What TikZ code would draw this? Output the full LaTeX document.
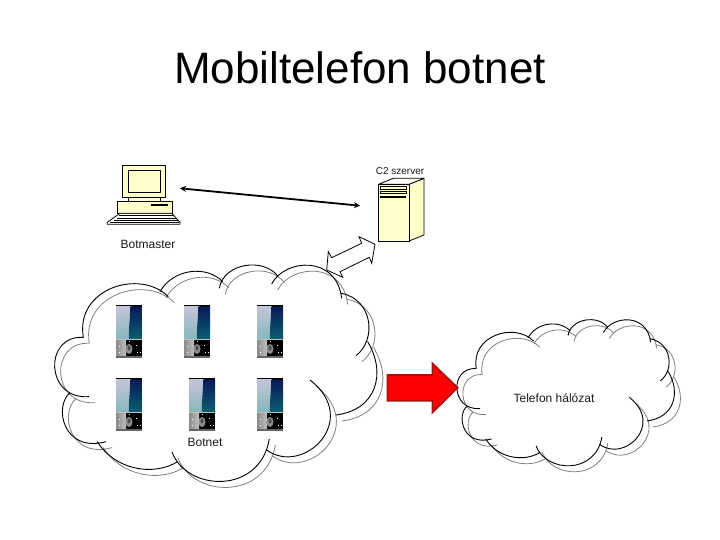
\documentclass[tikz,border=0pt]{standalone}
\usepackage{fontspec}
\setmainfont{Liberation Sans}
\usetikzlibrary{arrows.meta}
\definecolor{paleyellow}{HTML}{FFFFCC}
\definecolor{arrowred}{HTML}{FF0000}
\definecolor{arrowdark}{HTML}{A81010}
\definecolor{lavtop}{HTML}{C4C4D8}
\definecolor{tealpale}{HTML}{86B8BC}
\definecolor{navytop}{HTML}{0A1A58}
\definecolor{tealdark}{HTML}{0A5F70}
\tikzset{
  label12/.style={font=\fontsize{12}{14}\selectfont,inner sep=0pt,text=black!90},
  icon/.style={draw=black,line width=0.8pt,fill=paleyellow,line join=round},
  cloudline/.style={line width=0.9pt,draw=black},
  cloudshadow/.style={line width=0.8pt,draw=black!50},
  linkarrow/.style={line width=1.8pt,{Stealth[length=6pt,width=6pt]}-{Stealth[length=6pt,width=6pt]}},
}
\newcommand{\cloudarcs}[1]{%
  \draw[#1]
    (130,232) .. controls (10,225) and (15,420) .. (147,410)
    (90,398) .. controls (40,440) and (70,580) .. (198,545)
    (172,545) .. controls (225,630) and (340,650) .. (413,605)
    (396,576) .. controls (440,695) and (660,705) .. (688,537)
    (680,570) .. controls (790,650) and (965,480) .. (810,360)
    (888,465) .. controls (1010,450) and (1040,340) .. (983,245)
    (905,100) .. controls (1000,120) and (1010,240) .. (948,287)
    (695,72) .. controls (735,-5) and (890,-15) .. (905,115)
    (538,85) .. controls (550,10) and (670,-10) .. (715,50)
    (360,95) .. controls (400,25) and (500,15) .. (548,65)
    (130,232) .. controls (105,85) and (300,25) .. (385,110);}
\newcommand{\phoneicon}[2]{%
  \begin{scope}[shift={(#1,#2)}]
    \fill[black] (0,0) rectangle (26,53);
    \shade[top color=lavtop,bottom color=tealpale] (0,1.5) rectangle (15,34);
    \shade[top color=navytop,bottom color=tealdark] (14,1.5) .. controls (14.5,12) and (12.5,22) .. (13,34) -- (26,34) -- (26,1.5) -- cycle;
    \fill[black!25] (0,34) rectangle (26,34.8);
    \shade[left color=black!45,right color=black!25] (0,35) rectangle (10,51);
    \fill[black!45] (13,44) ellipse (3.5 and 5);
    \fill[black!70] (13,43) ellipse (1.5 and 2.5);
    \foreach \dx/\dy in {3/41,3/47,13/36,21/47,24/47,20/40}
      {\fill[white] (\dx,\dy) rectangle ++(1.2,1.2);}
    \fill[black!60] (0,51) rectangle (26,53);
  \end{scope}}
\begin{document}
\begin{tikzpicture}[x=1pt,y=-1pt]
\useasboundingbox (0,0) rectangle (720,540);
\fill[white] (0,0) rectangle (720,540);

\node[font=\fontsize{44}{50}\selectfont,inner sep=0pt,text=black] (title) at (360,68) {Mobiltelefon botnet};

% computer
\path[icon] (122.3,165) rectangle (165.7,197.3);
\path[icon] (128.3,170) rectangle (160,192.3);
\path[icon] (128.3,197.3) rectangle (160,201.3);
\path[icon] (117.3,201.3) rectangle (172.7,213.3);
\fill[black] (151,203.7) rectangle (168.3,205.7);
\path[icon,fill=white] (120,213.3) -- (171.7,213.3) -- (180,222.3) -- (180,224.3) -- (107.3,224.3) -- (107.3,222.3) -- cycle;
\draw[line width=0.9pt] (119,215.5) -- (173,215.5) (116.5,218) -- (175.5,218) (113.5,220.5) -- (177.5,220.5) (110,222.5) -- (179,222.5);
\coordinate (pcport) at (180,188.3);

% server
\path[icon] (409,184.3) -- (424,178.3) -- (424,235) -- (409,241) -- cycle;
\path[icon,fill=white] (378.5,184.3) -- (393.3,178.3) -- (424,178.3) -- (409,184.3) -- cycle;
\path[icon] (378.5,184.3) rectangle (409,241);
\draw[line width=0.7pt] (380,186.7) rectangle (406,189) (380,191) rectangle (406,193.3);
\fill[black] (380,195.7) rectangle (406,197.7);
\coordinate (srvport) at (360,205.7);

\draw[linkarrow] (pcport) -- (srvport);

% clouds
\begin{scope}[shift={(46,266)},x=0.3333pt,y=-0.3333pt]
  \cloudarcs{cloudshadow}
\end{scope}
\begin{scope}[shift={(40,260)},x=0.3333pt,y=-0.3333pt]
  \cloudarcs{cloudline}
\end{scope}
\begin{scope}[shift={(453,322.33)},x=0.225pt,y=-0.225pt]
  \cloudarcs{cloudshadow}
\end{scope}
\begin{scope}[shift={(447,316.33)},x=0.225pt,y=-0.225pt]
  \cloudarcs{cloudline}
\end{scope}

% block arrow between cloud and server
\draw[line width=0.8pt,line join=miter] (375,244.3) -- (371.7,263.3) -- (369.3,257.3) -- (340,271.7) -- (342.7,277.3) -- (326.7,270) -- (328.3,251.7) -- (331.7,257.7) -- (361.7,243.3) -- (359,236.7) -- cycle;

% phones
\phoneicon{116}{305}
\phoneicon{184}{305}
\phoneicon{257}{305}
\phoneicon{116}{378}
\phoneicon{189}{378}
\phoneicon{257}{378}

% red arrow
\draw[fill=arrowred,draw=arrowdark,line width=1.6pt,line join=miter] (387.3,375) -- (432.3,375) -- (432.3,363.3) -- (457.7,387.7) -- (432.3,412.7) -- (432.3,400.7) -- (387.3,400.7) -- cycle;

% labels
\node[font=\fontsize{10}{11}\selectfont,inner sep=0pt,text=black!90] (c2) at (400,171) {C2 szerver};
\node[label12] (botmaster) at (148,244) {Botmaster};
\node[label12] (botnet) at (205,442) {Botnet};
\node[label12] (telefon) at (554,398.5) {Telefon hálózat};
\end{tikzpicture}
\end{document}
